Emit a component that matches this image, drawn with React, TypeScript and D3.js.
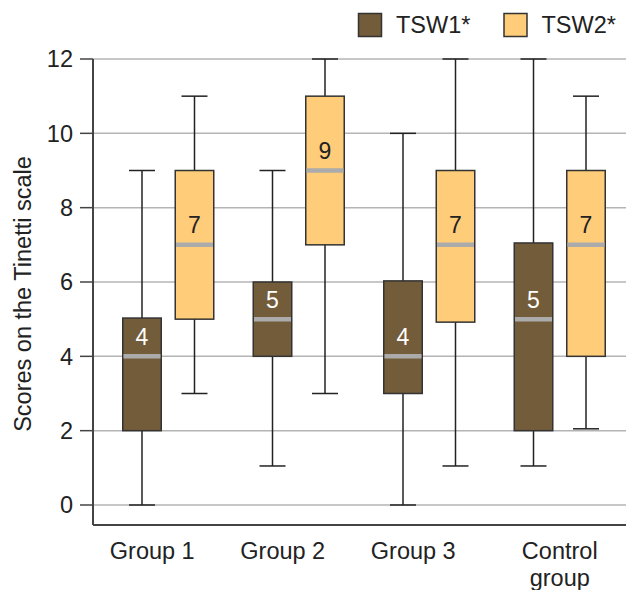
import React, { useEffect, useRef } from "react";
import * as d3 from "d3";

// categories and series
const groups = ["Group 1", "Group 2", "Group 3", "Control group"];
const seriesNames = ["TSW1*", "TSW2*"];
const seriesColors = ["#735c3a", "#ffcc79"];
const medianTextColors = ["#ffffff", "#222222"];

// box statistics per series, one entry per group
const tsw1Min = [0, 1.05, 0, 1.05];
const tsw1Q1 = [2, 4, 3, 2];
const tsw1Median = [4, 5, 4, 5];
const tsw1Q3 = [5.03, 6, 6.03, 7.05];
const tsw1Max = [9, 9, 10, 12];

const tsw2Min = [3, 3, 1.05, 2.05];
const tsw2Q1 = [5, 7, 4.92, 4];
const tsw2Median = [7, 9, 7, 7];
const tsw2Q3 = [9, 11, 9, 9];
const tsw2Max = [11, 12, 12, 11];

const yTicks = [0, 2, 4, 6, 8, 10, 12];

const W = 626;
const H = 590;
const FONT = "'Liberation Sans', Arial, sans-serif";

function App() {
  const ref = useRef<SVGSVGElement>(null);

  useEffect(() => {
    const svg = d3.select(ref.current);
    svg.selectAll("*").remove();

    const left = 93;
    const right = 626;
    const axisBottom = 525;

    const y = d3.scaleLinear().domain([0, 12]).range([505, 59]);
    const x0 = d3.scaleBand<string>().domain(groups).range([103, 625]);
    const x1 = d3.scalePoint<string>().domain(seriesNames).range([-26.25, 26.25]);
    const boxW = 38.5;
    const capW = 26;

    const stats = [
      groups.map((g, i) => ({ g, min: tsw1Min[i], q1: tsw1Q1[i], med: tsw1Median[i], q3: tsw1Q3[i], max: tsw1Max[i] })),
      groups.map((g, i) => ({ g, min: tsw2Min[i], q1: tsw2Q1[i], med: tsw2Median[i], q3: tsw2Q3[i], max: tsw2Max[i] })),
    ];

    // grid
    svg.append("g")
      .selectAll("line")
      .data(yTicks)
      .join("line")
      .attr("x1", left)
      .attr("x2", right)
      .attr("y1", d => y(d))
      .attr("y2", d => y(d))
      .attr("stroke", "#b4b4b4")
      .attr("stroke-width", 1.5);

    // y axis
    const yAxis = svg.append("g");
    yAxis.append("line")
      .attr("x1", left).attr("x2", left)
      .attr("y1", y(12)).attr("y2", axisBottom)
      .attr("stroke", "#444").attr("stroke-width", 2);
    yAxis.selectAll(".tick")
      .data(yTicks)
      .join("line")
      .attr("x1", 80).attr("x2", left)
      .attr("y1", d => y(d)).attr("y2", d => y(d))
      .attr("stroke", "#444").attr("stroke-width", 1.5);
    yAxis.selectAll("text")
      .data(yTicks)
      .join("text")
      .attr("x", 73)
      .attr("y", d => y(d))
      .attr("dy", "0.36em")
      .attr("text-anchor", "end")
      .attr("font-size", 23.5)
      .attr("fill", "#222")
      .text(d => d);

    svg.append("text")
      .attr("transform", `translate(31, ${(155 + 433) / 2}) rotate(-90)`)
      .attr("text-anchor", "middle")
      .attr("font-size", 23.5)
      .attr("fill", "#222")
      .text("Scores on the Tinetti scale");

    // x axis
    svg.append("line")
      .attr("x1", left).attr("x2", right)
      .attr("y1", axisBottom).attr("y2", axisBottom)
      .attr("stroke", "#444").attr("stroke-width", 2);

    const xl = svg.append("g")
      .selectAll("text")
      .data(groups)
      .join("text")
      .attr("x", d => x0(d)! + x0.bandwidth() / 2 + (d.includes(" group") ? 0 : -16))
      .attr("y", 559)
      .attr("text-anchor", "middle")
      .attr("font-size", 23.5)
      .attr("fill", "#222");
    xl.each(function (d) {
      const t = d3.select(this);
      const words = d.includes(" group") ? d.split(" ") : [d];
      words.forEach((w, i) => {
        t.append("tspan")
          .attr("x", t.attr("x"))
          .attr("dy", i === 0 ? 0 : 27)
          .text(w);
      });
    });

    // boxes
    stats.forEach((rows, si) => {
      const gS = svg.append("g");
      const cx = (d: any) => x0(d.g)! + x0.bandwidth() / 2 + x1(seriesNames[si])!;

      gS.selectAll(".whisker")
        .data(rows)
        .join("line")
        .attr("x1", cx).attr("x2", cx)
        .attr("y1", d => y(d.min)).attr("y2", d => y(d.max))
        .attr("stroke", "#222").attr("stroke-width", 1.5);
      ["min", "max"].forEach(k => {
        gS.selectAll(".cap-" + k)
          .data(rows)
          .join("line")
          .attr("x1", d => cx(d) - capW / 2).attr("x2", d => cx(d) + capW / 2)
          .attr("y1", (d: any) => y(d[k])).attr("y2", (d: any) => y(d[k]))
          .attr("stroke", "#222").attr("stroke-width", 1.5);
      });
      gS.selectAll(".box")
        .data(rows)
        .join("rect")
        .attr("x", d => cx(d) - boxW / 2)
        .attr("width", boxW)
        .attr("y", d => y(d.q3))
        .attr("height", d => y(d.q1) - y(d.q3))
        .attr("fill", seriesColors[si])
        .attr("stroke", "#333")
        .attr("stroke-width", 1.5);
      gS.selectAll(".median")
        .data(rows)
        .join("line")
        .attr("x1", d => cx(d) - boxW / 2 + 0.75).attr("x2", d => cx(d) + boxW / 2 - 0.75)
        .attr("y1", d => y(d.med)).attr("y2", d => y(d.med))
        .attr("stroke", "#ababab").attr("stroke-width", 4.5);
      gS.selectAll(".mlabel")
        .data(rows)
        .join("text")
        .attr("x", cx)
        .attr("y", d => y(d.med) - 11.5)
        .attr("text-anchor", "middle")
        .attr("font-size", 23)
        .attr("fill", medianTextColors[si])
        .text(d => d.med);
    });

    // legend
    const legendX = [358.5, 504];
    const lg = svg.append("g")
      .selectAll("g")
      .data(seriesNames)
      .join("g")
      .attr("transform", (_, i) => `translate(${legendX[i]}, 13.5)`);
    lg.append("rect")
      .attr("width", 23).attr("height", 23)
      .attr("fill", (_, i) => seriesColors[i])
      .attr("stroke", "#333").attr("stroke-width", 1.5);
    lg.append("text")
      .attr("x", 37.5).attr("y", 19.8)
      .attr("font-size", 23.5)
      .attr("fill", "#222")
      .text(d => d);
  }, []);

  return (
    <div style={{ position: "absolute", left: 0, top: 0 }}>
      <svg ref={ref} width={W} height={H} style={{ display: "block", fontFamily: FONT, background: "#fff" }} />
    </div>
  );
}

export default App;
